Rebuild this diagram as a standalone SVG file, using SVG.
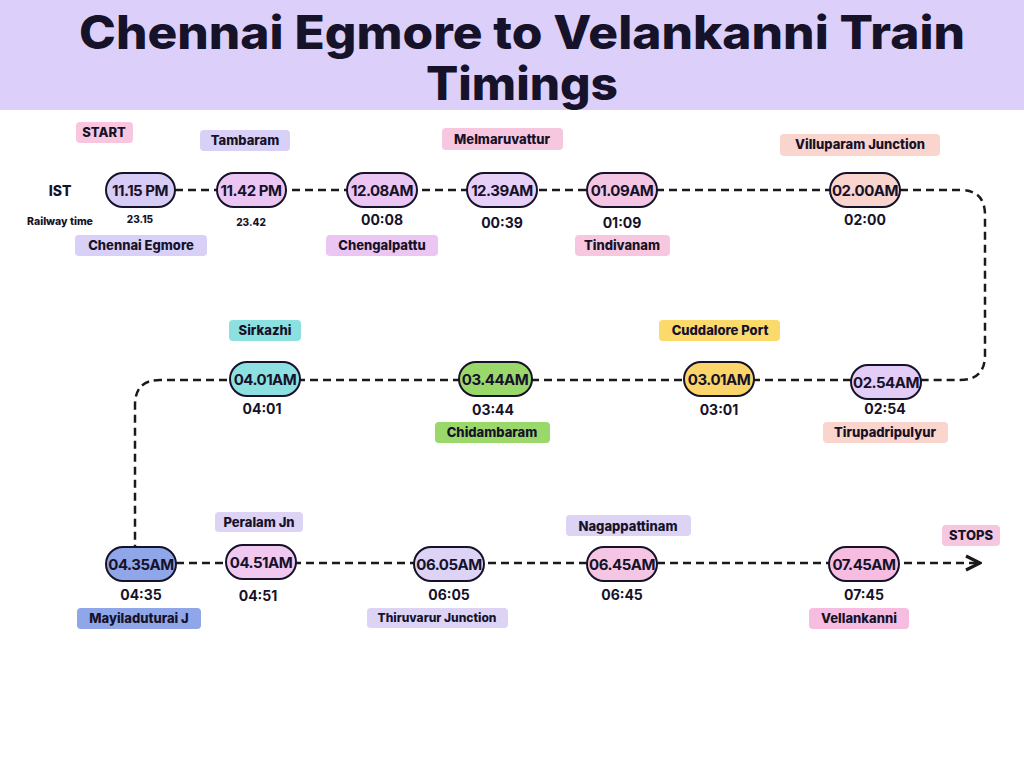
<svg xmlns="http://www.w3.org/2000/svg" width="1024" height="768" viewBox="0 0 1024 768">
<defs>
<marker id="ah" viewBox="0 0 10 10" refX="9" refY="5" markerWidth="7" markerHeight="7" orient="auto"><path d="M1,1 L9,5 L1,9" fill="none" stroke="#1a1a1a" stroke-width="1.8"/></marker>
</defs>
<style>
text{font-family:Inter,"Open Sans","Liberation Sans",sans-serif;fill:#16122a;font-weight:800}
.n rect{stroke:#16122a;stroke-width:2}
.n text{font-size:15px;text-anchor:middle;letter-spacing:-0.5px;font-weight:700}
.t{font-size:14px;text-anchor:middle;font-weight:700}
.s{font-size:10px;text-anchor:middle}
.l text{font-size:13px;text-anchor:middle}
.c{fill:none;stroke:#1a1a1a;stroke-width:2.5;stroke-dasharray:8 5}
</style>
<rect width="1024" height="768" fill="#fff"/>
<rect width="1024" height="110" fill="#dcd0fb"/>
<text x="522" y="49" font-size="46" text-anchor="middle" textLength="886" lengthAdjust="spacingAndGlyphs">Chennai Egmore to Velankanni Train</text>
<text x="522" y="100" font-size="46" text-anchor="middle" textLength="192" lengthAdjust="spacingAndGlyphs">Timings</text>

<g id="connectors">
<path class="c" d="M175,190 H830 M900,190 H960 Q985,190 985,215 V355 Q985,380 960,380 H921"/>
<path class="c" d="M851,380 H160 Q135,380 135,405 V547"/>
<path class="c" d="M176,563 H980" marker-end="url(#ah)"/>
</g>

<text x="60" y="196" font-size="14" text-anchor="middle">IST</text>
<text x="60" y="225" font-size="10.5" text-anchor="middle">Railway time</text>

<g id="n1" class="n"><rect x="106" y="173" width="69" height="34" rx="17" fill="#d6ccf5"/><text x="140" y="196">11.15 PM</text></g>
<g id="n2" class="n"><rect x="217" y="173" width="69" height="34" rx="17" fill="#ecc6f2"/><text x="251" y="196">11.42 PM</text></g>
<g id="n3" class="n"><rect x="347" y="173" width="70" height="34" rx="17" fill="#ecc6f2"/><text x="382" y="196">12.08AM</text></g>
<g id="n4" class="n"><rect x="467" y="173" width="70" height="34" rx="17" fill="#e6d0f7"/><text x="502" y="196">12.39AM</text></g>
<g id="n5" class="n"><rect x="587" y="173" width="70" height="34" rx="17" fill="#f5c6e3"/><text x="622" y="196">01.09AM</text></g>
<g id="n6" class="n"><rect x="830" y="173" width="70" height="34" rx="17" fill="#f9d5cd"/><text x="865" y="196">02.00AM</text></g>

<g id="n7" class="n"><rect x="230" y="362" width="70" height="34" rx="17" fill="#8de0e0"/><text x="265" y="385">04.01AM</text></g>
<g id="n8" class="n"><rect x="459" y="362" width="73" height="34" rx="17" fill="#9bd86a"/><text x="495" y="385">03.44AM</text></g>
<g id="n9" class="n"><rect x="684" y="362" width="70" height="34" rx="17" fill="#fbd56a"/><text x="719" y="385">03.01AM</text></g>
<g id="n10" class="n"><rect x="851" y="365" width="70" height="34" rx="17" fill="#e3cdf7"/><text x="886" y="388">02.54AM</text></g>

<g id="n11" class="n"><rect x="106" y="547" width="70" height="34" rx="17" fill="#8fa6e8"/><text x="141" y="570">04.35AM</text></g>
<g id="n12" class="n"><rect x="226" y="545" width="70" height="34" rx="17" fill="#f0c8f0"/><text x="261" y="568">04.51AM</text></g>
<g id="n13" class="n"><rect x="414" y="547" width="70" height="34" rx="17" fill="#dcd3f5"/><text x="449" y="570">06.05AM</text></g>
<g id="n14" class="n"><rect x="587" y="547" width="70" height="34" rx="17" fill="#f5c6e3"/><text x="622" y="570">06.45AM</text></g>
<g id="n15" class="n"><rect x="829" y="547" width="70" height="34" rx="17" fill="#f6bde0"/><text x="864" y="570">07.45AM</text></g>

<g id="times">
<text class="s" x="140" y="223">23.15</text>
<text class="s" x="251" y="226">23.42</text>
<text class="t" x="382" y="225">00:08</text>
<text class="t" x="502" y="228">00:39</text>
<text class="t" x="622" y="228">01:09</text>
<text class="t" x="865" y="225">02:00</text>
<text class="t" x="262" y="414">04:01</text>
<text class="t" x="493" y="415">03:44</text>
<text class="t" x="719" y="415">03:01</text>
<text class="t" x="885" y="414">02:54</text>
<text class="t" x="141" y="600">04:35</text>
<text class="t" x="258" y="601">04:51</text>
<text class="t" x="449" y="600">06:05</text>
<text class="t" x="622" y="600">06:45</text>
<text class="t" x="864" y="600">07:45</text>
</g>

<g id="labels" class="l">
<rect x="76" y="122" width="57" height="21" rx="4" fill="#f9c6e0"/><text x="104" y="137">START</text>
<rect x="200" y="130" width="90" height="21" rx="4" fill="#d8d0f7"/><text x="245" y="145">Tambaram</text>
<rect x="442" y="128" width="121" height="22" rx="4" fill="#f7c7df"/><text x="502" y="144">Melmaruvattur</text>
<rect x="780" y="134" width="160" height="22" rx="4" fill="#fad5cd"/><text x="860" y="149">Villuparam Junction</text>
<rect x="75" y="235" width="132" height="21" rx="4" fill="#d8d0f7"/><text x="141" y="250">Chennai Egmore</text>
<rect x="326" y="235" width="112" height="21" rx="4" fill="#ecc6f2"/><text x="382" y="250">Chengalpattu</text>
<rect x="575" y="235" width="95" height="21" rx="4" fill="#f7c7df"/><text x="622" y="250">Tindivanam</text>
<rect x="229" y="320" width="72" height="21" rx="4" fill="#8de0e0"/><text x="265" y="335">Sirkazhi</text>
<rect x="659" y="320" width="121" height="21" rx="4" fill="#fbd96a"/><text x="720" y="335">Cuddalore Port</text>
<rect x="435" y="422" width="115" height="21" rx="4" fill="#9bd86a"/><text x="492" y="437">Chidambaram</text>
<rect x="823" y="422" width="125" height="21" rx="4" fill="#fad5cd"/><text x="885" y="437">Tirupadripulyur</text>
<rect x="215" y="512" width="88" height="20" rx="4" fill="#dcd3f5"/><text x="259" y="527">Peralam Jn</text>
<rect x="566" y="515" width="125" height="21" rx="4" fill="#dcd3f5"/><text x="628" y="531">Nagappattinam</text>
<rect x="942" y="525" width="58" height="21" rx="4" fill="#f7c7df"/><text x="971" y="540">STOPS</text>
<rect x="77" y="608" width="124" height="21" rx="4" fill="#8fa6e8"/><text x="139" y="623">Mayiladuturai J</text>
<rect x="367" y="608" width="141" height="20" rx="4" fill="#dcd3f5"/><text x="437" y="622" style="font-size:12px">Thiruvarur Junction</text>
<rect x="809" y="608" width="100" height="21" rx="4" fill="#f6bde0"/><text x="859" y="623">Vellankanni</text>
</g>
</svg>
